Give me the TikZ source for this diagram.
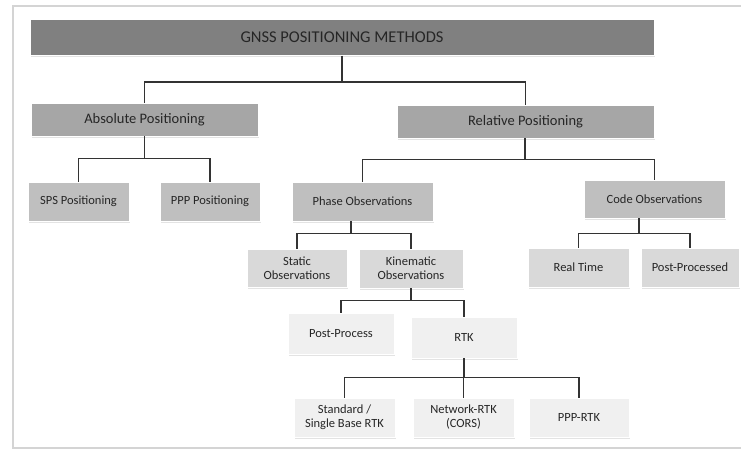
\documentclass[tikz,border=0pt]{standalone}
\usepackage{fontspec}
\setmainfont{Carlito}
\usetikzlibrary{shadows}
\definecolor{frameline}{HTML}{D4D4D4}
\definecolor{textgrey}{HTML}{262626}
\definecolor{fillone}{HTML}{808080}
\definecolor{filltwo}{HTML}{A6A6A6}
\definecolor{fillthree}{HTML}{BFBFBF}
\definecolor{fillfour}{HTML}{D9D9D9}
\definecolor{fillfive}{HTML}{F0F0F0}
\begin{document}
\begin{tikzpicture}
    [x=1pt,y=-1pt,
     box/.style={draw=white, line width=0.8pt, inner sep=0pt, align=center, text=textgrey,
       font=\fontsize{12.5}{14}\selectfont,
       drop shadow={shadow xshift=1.2pt, shadow yshift=-1.8pt, opacity=0.22}},
     link/.style={draw=black!80, line width=1.2pt}]
  \useasboundingbox (0,0) rectangle (741,450);
  \fill[white] (0,0) rectangle (741,450);
  % outer frame
  \draw[frameline, line width=1.5pt] (745,448) -- (13,448) -- (13,6) -- (745,6);

  \node[box, fill=fillone, minimum width=624pt, minimum height=36pt, font=\fontsize{16.5}{18}\selectfont, text=black!85] (gnss) at (342,37.5) {GNSS POSITIONING METHODS};

  \node[box, fill=filltwo, minimum width=227pt, minimum height=33pt, font=\fontsize{14.5}{16}\selectfont] (absp) at (144.5,119.5) {Absolute Positioning};
  \node[box, fill=filltwo, minimum width=257pt, minimum height=33pt, font=\fontsize{14.5}{16}\selectfont] (relp) at (525.5,121.5) {Relative Positioning};

  \node[box, fill=fillthree, minimum width=101pt, minimum height=39pt] (sps) at (78.5,201.5) {SPS Positioning};
  \node[box, fill=fillthree, minimum width=100pt, minimum height=39pt] (ppp) at (210,201.5) {PPP Positioning};
  \node[box, fill=fillthree, minimum width=141pt, minimum height=39pt] (phase) at (362.5,201.5) {Phase Observations};
  \node[box, fill=fillthree, minimum width=141pt, minimum height=38pt] (code) at (654.5,199) {Code Observations};

  \node[box, fill=fillfour, minimum width=100pt, minimum height=38pt] (static) at (297,268) {Static\\Observations};
  \node[box, fill=fillfour, minimum width=104pt, minimum height=39pt] (kin) at (411,268.5) {Kinematic\\Observations};
  \node[box, fill=fillfour, minimum width=101pt, minimum height=39pt] (realt) at (578.5,267.5) {Real Time};
  \node[box, fill=fillfour, minimum width=98pt, minimum height=39pt] (postpd) at (690,267.5) {Post-Processed};

  \node[box, fill=fillfive, minimum width=106pt, minimum height=41pt] (postp) at (341,333.5) {Post-Process};
  \node[box, fill=fillfive, minimum width=106pt, minimum height=41pt] (rtk) at (464,337.5) {RTK};

  \node[box, fill=fillfive, minimum width=101pt, minimum height=39pt] (std) at (344.5,417.5) {Standard /\\Single Base RTK};
  \node[box, fill=fillfive, minimum width=101pt, minimum height=39pt] (net) at (463.5,417.5) {Network-RTK\\(CORS)};
  \node[box, fill=fillfive, minimum width=100pt, minimum height=39pt] (ppprtk) at (579,417.5) {PPP-RTK};

  \foreach \from/\shift/\drop/\to in {gnss/0/26/absp, gnss/0/26/relp,
      absp/0/22/sps, absp/0/22/ppp, relp/-0.5/21/phase, relp/-0.5/21/code,
      phase/-11.5/12/static, phase/-11.5/12/kin, code/-15.5/15/realt, code/-15.5/15/postpd,
      kin/0/12/postp, kin/0/12/rtk, rtk/0/19/std, rtk/0/19/net, rtk/0/19/ppprtk}
    \draw[link] ([xshift=\shift pt]\from.south) -- ++(0,\drop) -| (\to.north);
\end{tikzpicture}
\end{document}
